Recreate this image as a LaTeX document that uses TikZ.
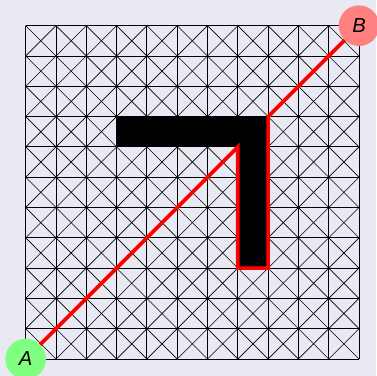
\documentclass[tikz,border=0pt]{standalone}
\usepackage{fontspec}
\setsansfont{Liberation Sans}
\definecolor{bgc}{RGB}{233,233,243}
\definecolor{agreen}{RGB}{128,255,128}
\definecolor{bred}{RGB}{255,128,128}
\tikzset{
  gridline/.style={black, line width=0.9pt},
  diagline/.style={black, line width=0.6pt},
  endpt/.style={circle, minimum size=1.34cm, inner sep=0pt, font=\fontsize{19}{21}\selectfont\sffamily\itshape},
  route/.style={red, line width=3.4pt, line join=miter},
}
\begin{document}
\begin{tikzpicture}
\useasboundingbox[fill=bgc] (-0.848,-0.561) rectangle (11.561,11.848);
\foreach \i in {0,...,10}{
  \foreach \j in {0,...,10}{
    \draw[diagline] (\i,\j) -- (\i+1,\j+1);
    \draw[diagline] (\i,\j+1) -- (\i+1,\j);
  }
}
\draw[gridline] (0,0) grid (11,11);
\fill[black] (3,7) rectangle (8,8);
\fill[black] (7,3) rectangle (8,8);
\node[endpt, fill=agreen] (A) at (0,0) {A};
\node[endpt, fill=bred] (B) at (11,11) {B};
\coordinate (p1) at (7,7);
\coordinate (p2) at (7,3);
\coordinate (p3) at (8,3);
\coordinate (p4) at (8,8);
\draw[route] (A) -- (p1) -- (p2) -- (p3) -- (p4) -- (B);
\end{tikzpicture}
\end{document}
